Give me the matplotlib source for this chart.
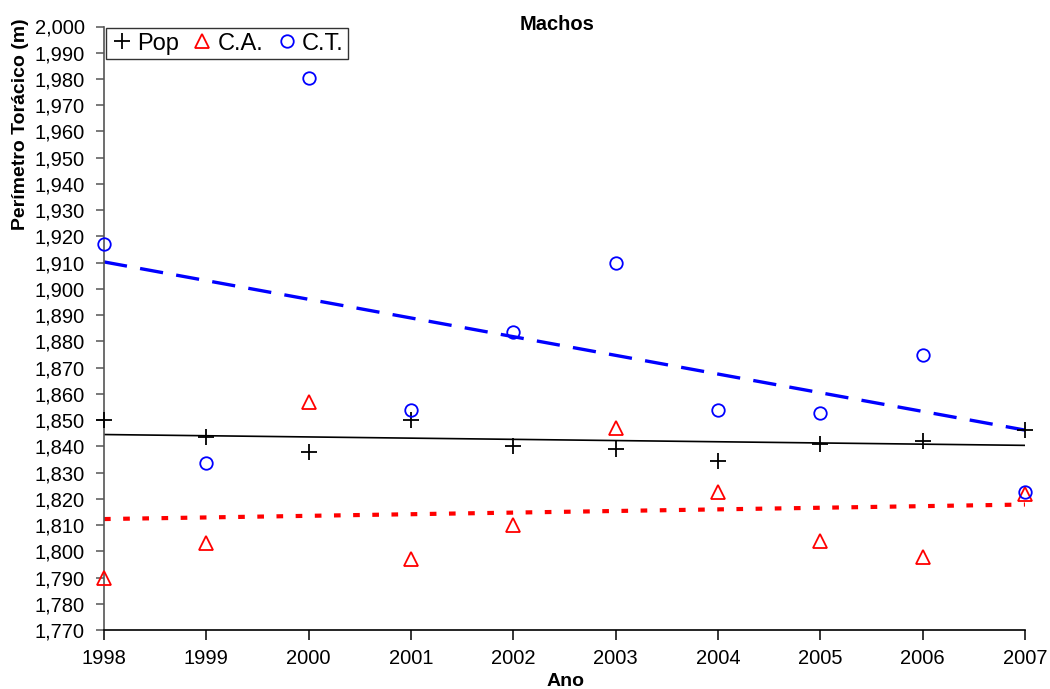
import numpy as np
import matplotlib
matplotlib.use("Agg")
import matplotlib.pyplot as plt
from matplotlib.ticker import FuncFormatter, MultipleLocator

plt.rcParams['font.family'] = ['Liberation Sans', 'DejaVu Sans']

# Thoracic perimeter (m) of males by year
anos = [1998, 1999, 2000, 2001, 2002, 2003, 2004, 2005, 2006, 2007]
pop = [1.850, 1.8435, 1.838, 1.850, 1.840, 1.839, 1.8344, 1.841, 1.842, 1.8464]
ca = [1.790, 1.803, 1.857, 1.797, 1.810, 1.847, 1.8225, 1.804, 1.798, 1.822]
ct = [1.917, 1.8335, 1.9805, 1.854, 1.8835, 1.910, 1.854, 1.8526, 1.8747, 1.8225]

fig = plt.figure(figsize=(10.5, 6.89), dpi=100)
ax = fig.add_axes([104 / 1050, 59 / 689, 921 / 1050, 603.5 / 689])

x = np.array(anos, dtype=float)

# Linear trend lines for each group
def trend(y):
    k, b = np.polyfit(x, np.array(y), 1)
    return k * x + b

ax.plot(x, trend(ct), color='#0000ff', lw=2.4, dashes=(7, 4), solid_capstyle='butt',
        dash_capstyle='butt', zorder=2)
ax.plot(x, trend(pop), color='black', lw=1.2, zorder=2)
ax.plot(x, trend(ca), color='#ff0000', lw=3.0, dashes=(1.6, 3.0),
        dash_capstyle='butt', zorder=2)

ax.plot(x, pop, linestyle='none', marker='+', markersize=11, markeredgewidth=1.3,
        color='black', label='Pop', clip_on=False, zorder=3)
ax.plot(x, ca, linestyle='none', marker='^', markersize=10, markeredgewidth=1.3,
        markerfacecolor='none', markeredgecolor='#ff0000', label='C.A.',
        clip_on=False, zorder=3)
ax.plot(x, ct, linestyle='none', marker='o', markersize=9, markeredgewidth=1.3,
        markerfacecolor='none', markeredgecolor='#0000ff', label='C.T.',
        clip_on=False, zorder=3)

ax.set_xlim(1998, 2007)
ax.set_ylim(1.770, 2.000)
ax.set_xticks(anos)
ax.yaxis.set_major_locator(MultipleLocator(0.010))
ax.yaxis.set_major_formatter(FuncFormatter(lambda v, p: f"{v:.3f}".replace('.', ',')))

for side in ('top', 'right'):
    ax.spines[side].set_visible(False)
ax.spines['left'].set_color('#555555')
ax.spines['left'].set_linewidth(1.2)
ax.spines['bottom'].set_color('black')
ax.spines['bottom'].set_linewidth(1.2)

ax.tick_params(axis='y', direction='out', length=6, width=1.1, color='#555555',
               labelsize=14.5, pad=8)
ax.tick_params(axis='x', direction='out', length=7, width=1.1, color='black',
               labelsize=14.5, pad=7)

fig.text(557 / 1050, 1 - 25 / 689, 'Machos', ha='center', va='center',
         fontsize=14.5, fontweight='bold')
fig.text(566 / 1050, 1 - 681 / 689, 'Ano', ha='center', va='center',
         fontsize=14, fontweight='bold')
fig.text(21 / 1050, 1 - 124 / 689, 'Perímetro Torácico (m)', ha='center',
         va='center', rotation=90, fontsize=14, fontweight='bold')

leg = ax.legend(loc='upper left', bbox_to_anchor=(106 / 1050, 1 - 28 / 689),
                bbox_transform=fig.transFigure, ncol=3, fontsize=17,
                frameon=True, fancybox=False, handlelength=0.95,
                handletextpad=0.18, columnspacing=0.5, borderpad=0.2,
                borderaxespad=0.0)
leg.get_frame().set_edgecolor('black')
leg.get_frame().set_linewidth(1.0)

fig.savefig('out.png', dpi=100)
